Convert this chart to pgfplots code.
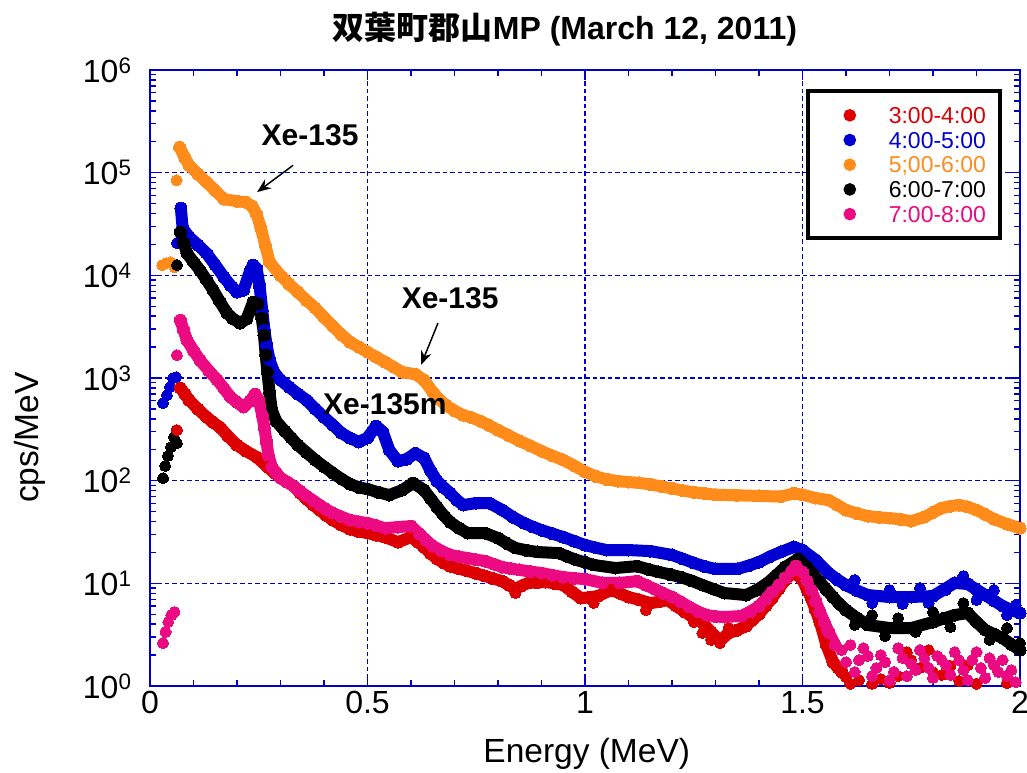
\documentclass[border=0pt]{standalone}
\usepackage{pgfplots}
\pgfplotsset{compat=1.18}
\usepackage{pgfplotstable}
\usepackage{fontspec}
\setmainfont{Liberation Sans}
\newfontfamily\cjk{Noto Sans CJK JP}
\usetikzlibrary{arrows.meta}
\definecolor{axblue}{RGB}{0,0,200}
\definecolor{sred}{RGB}{220,0,0}
\definecolor{sblue}{RGB}{0,0,210}
\definecolor{sorange}{RGB}{255,140,26}
\definecolor{spink}{RGB}{235,10,130}

\pgfplotstableread{
x y
0.068 177000
0.08 140000
0.09 118000
0.11 97000
0.13 80800
0.15 67000
0.17 55200
0.20 52700
0.22 51600
0.235 47200
0.245 39400
0.255 28800
0.265 19700
0.275 13400
0.30 10000
0.32 8200
0.34 6860
0.36 5700
0.38 4800
0.40 3900
0.42 3200
0.44 2650
0.46 2240
0.48 2000
0.50 1790
0.52 1600
0.54 1430
0.56 1280
0.58 1140
0.61 1090
0.63 955
0.65 729
0.665 620
0.68 545
0.70 480
0.72 435
0.74 410
0.76 380
0.78 345
0.80 311
0.825 275
0.85 243
0.875 218
0.90 194
0.925 175
0.95 159
0.975 140
1.00 122
1.025 110
1.05 103
1.075 99
1.10 97
1.125 95
1.15 92
1.175 88
1.20 84
1.225 80
1.25 77
1.275 75
1.30 73
1.35 72
1.40 71
1.45 70
1.48 75
1.50 73
1.53 67.7
1.56 64.7
1.58 58
1.60 51.7
1.625 48
1.65 45.2
1.675 44
1.70 43.2
1.725 42
1.75 40.4
1.78 44.2
1.80 49
1.82 54.1
1.84 56.5
1.86 57.9
1.88 55.5
1.90 51.7
1.92 47
1.94 42.3
1.97 37.8
2.00 34.5
}\orangemain
\pgfplotstableread{
x y
0.028 12600
0.038 13200
0.048 13400
0.056 12000
0.061 84500
}\orangeiso

\pgfplotstableread{
x y
0.071 45100
0.075 28800
0.09 23600
0.11 19800
0.13 16400
0.15 12600
0.17 9600
0.185 8000
0.20 6860
0.215 7180
0.23 11000
0.237 12600
0.245 11700
0.252 7850
0.258 4580
0.263 2930
0.268 2090
0.275 1490
0.285 1140
0.30 955
0.32 815
0.34 700
0.36 609
0.38 500
0.40 416
0.42 350
0.44 291
0.46 260
0.48 238
0.50 262
0.52 340
0.535 300
0.55 199
0.57 155
0.59 162
0.61 185
0.63 166
0.645 125
0.66 99.1
0.675 86
0.69 75.7
0.705 65
0.72 57.9
0.75 60.5
0.78 60.5
0.81 51.7
0.835 44
0.86 38.6
0.88 35.5
0.90 33.0
0.925 30.5
0.95 28.2
0.975 25.8
1.00 23.6
1.025 22.2
1.05 21.1
1.10 21.1
1.15 20.6
1.20 18.9
1.225 17.3
1.25 15.8
1.275 14.6
1.30 13.8
1.35 13.8
1.375 14.8
1.40 16.1
1.425 18.2
1.45 20.2
1.48 22.6
1.50 21.1
1.53 16.9
1.56 12.6
1.58 10.9
1.60 9.62
1.625 8.5
1.65 7.69
1.70 7.36
1.75 7.36
1.80 7.52
1.825 8.7
1.85 10.1
1.88 9.84
1.90 8.7
1.92 7.69
1.94 6.8
1.96 6.01
1.98 5.5
2.00 5.14
}\bluemain
\pgfplotstableread{
x y
0.030 570
0.039 681
0.046 815
0.053 998
0.060 1020
0.062 20600
1.62 10.8
1.66 6.43
1.70 8.61
1.73 6.29
1.77 9.0
1.79 6.43
1.83 8.61
1.87 11.8
1.90 6.88
1.94 8.61
1.97 4.91
1.99 6.15
}\blueiso

\pgfplotstableread{
x y
0.070 26400
0.077 21000
0.085 16400
0.10 13500
0.115 11200
0.13 9000
0.145 7180
0.16 5600
0.177 4290
0.19 3800
0.207 3430
0.222 3750
0.237 5480
0.248 5250
0.257 3830
0.262 2620
0.266 1670
0.270 1140
0.275 713
0.280 487
0.290 380
0.31 304
0.325 260
0.34 222
0.36 188
0.38 159
0.40 137
0.42 119
0.44 104
0.46 92.7
0.48 86
0.50 82.8
0.525 77
0.55 72.4
0.58 81.0
0.605 94.8
0.63 81.0
0.645 67
0.66 55.3
0.675 46
0.69 39.5
0.71 34.5
0.73 30.9
0.77 30.9
0.80 27.6
0.82 24.5
0.84 22.1
0.865 21
0.89 20.2
0.94 19.7
0.96 18.2
0.98 16.9
1.00 16
1.02 15.1
1.07 14.1
1.12 14.7
1.145 13.7
1.17 12.9
1.195 12.2
1.22 11.5
1.245 10.6
1.27 9.62
1.295 8.8
1.32 8.05
1.37 7.69
1.395 8.6
1.42 10.1
1.44 12.0
1.46 14.4
1.49 17.3
1.51 14.4
1.525 12.2
1.54 10.3
1.555 8.7
1.57 7.36
1.585 6.3
1.60 5.50
1.625 4.6
1.65 3.93
1.70 3.67
1.75 3.67
1.80 4.20
1.825 4.55
1.85 4.91
1.88 5.14
1.90 4.2
1.92 3.51
1.94 3.2
1.96 2.93
1.98 2.55
2.00 2.24
}\blackmain
\pgfplotstableread{
x y
0.030 106
0.035 139
0.041 174
0.048 212
0.055 266
0.061 311
0.062 232
0.062 12600
1.62 3.93
1.66 4.91
1.69 3.07
1.72 4.59
1.76 3.36
1.80 5.26
1.84 3.75
1.87 6.43
1.90 4.20
1.93 2.81
1.97 3.67
2.00 2.62
}\blackiso

\pgfplotstableread{
x y
0.070 798
0.08 700
0.09 609
0.11 500
0.13 416
0.145 370
0.16 333
0.18 270
0.20 222
0.22 195
0.245 170
0.27 136
0.285 120
0.30 106
0.315 97
0.33 88.6
0.345 76
0.36 66.2
0.375 58
0.39 51.7
0.405 46
0.42 41.3
0.44 37
0.46 33.8
0.48 32
0.50 30.9
0.52 29.5
0.54 28.2
0.57 25.2
0.60 28.2
0.615 25.5
0.63 22.6
0.645 19.5
0.66 17.3
0.675 15.8
0.69 14.7
0.71 13.9
0.73 13.2
0.75 12.5
0.77 11.8
0.79 11.1
0.81 10.5
0.825 9.6
0.84 8.80
0.855 9.5
0.87 10.1
0.89 10.2
0.91 10.3
0.93 10.0
0.95 9.62
0.97 8.3
0.99 7.19
1.01 7.3
1.03 7.52
1.06 8.61
1.08 8.0
1.10 7.36
1.125 6.9
1.15 6.43
1.17 6.6
1.19 6.88
1.21 6.0
1.23 5.26
1.25 4.6
1.27 4.11
1.29 3.36
1.31 2.74
1.33 3.28
1.35 3.5
1.37 3.84
1.385 4.4
1.40 5.02
1.415 6.0
1.43 7.19
1.445 8.8
1.46 10.8
1.48 12.9
1.50 10.8
1.51 8.8
1.52 7.19
1.53 5.5
1.54 4.20
1.555 2.51
1.57 1.71
1.59 1.37
}\redmain
\pgfplotstableread{
x y
0.062 311
0.84 8.05
1.02 6.43
1.14 5.50
1.25 4.20
1.27 3.28
1.29 2.81
1.31 2.62
1.33 3.67
1.58 1.50
1.60 1.22
1.61 1.05
1.63 1.14
1.66 1.05
1.68 1.17
1.70 1.07
1.72 1.25
1.74 2.14
1.75 1.79
1.77 1.50
1.79 2.24
1.80 1.37
1.82 1.28
1.84 1.57
1.86 1.12
1.88 1.60
1.90 1.05
1.92 1.20
1.95 1.37
1.97 1.07
}\rediso

\pgfplotstableread{
x y
0.070 3660
0.077 2930
0.085 2340
0.10 1850
0.115 1490
0.135 1180
0.155 955
0.17 790
0.185 652
0.20 580
0.215 521
0.23 596
0.242 697
0.25 609
0.258 435
0.263 325
0.268 238
0.272 178
0.28 136
0.29 120
0.30 106
0.315 97
0.33 88.6
0.345 79
0.36 70.8
0.375 64
0.39 57.9
0.405 52.5
0.42 48.4
0.44 44.5
0.46 41.3
0.48 39.8
0.50 38.6
0.52 36.5
0.54 34.5
0.57 35.3
0.60 36.1
0.62 30.2
0.635 26.2
0.65 23.1
0.67 20.7
0.69 18.9
0.71 18.2
0.73 17.6
0.75 17.0
0.77 16.5
0.79 15.4
0.81 14.4
0.83 13.9
0.85 13.5
0.875 13.0
0.90 12.6
0.925 12.0
0.95 11.5
0.975 11.2
1.00 11.0
1.04 10.1
1.08 10.1
1.12 10.5
1.14 9.6
1.16 8.80
1.18 8.0
1.20 7.36
1.22 6.6
1.24 5.88
1.26 5.3
1.28 4.91
1.30 4.75
1.32 4.70
1.36 4.81
1.38 5.3
1.40 6.01
1.415 7.0
1.43 8.23
1.445 9.6
1.46 11.3
1.475 13.2
1.485 14.7
1.50 12.9
1.51 10.6
1.52 8.61
1.53 6.7
1.54 5.26
1.55 4.2
1.56 3.36
1.575 2.51
}\pinkmain
\pgfplotstableread{
x y
0.030 2.62
0.036 3.36
0.042 4.20
0.049 4.91
0.056 5.26
0.062 1670
1.59 2.24
1.60 1.71
1.61 2.51
1.62 1.37
1.63 1.79
1.64 2.34
1.65 1.96
1.66 1.25
1.67 1.50
1.68 2.00
1.69 1.71
1.70 1.14
1.71 1.37
1.72 2.34
1.73 1.87
1.74 1.25
1.75 1.64
1.76 1.43
1.77 2.24
1.78 1.87
1.79 1.50
1.80 1.20
1.81 1.96
1.82 1.79
1.83 1.60
1.84 1.28
1.85 2.14
1.86 1.79
1.87 1.43
1.88 1.14
1.89 1.79
1.90 2.14
1.91 1.50
1.92 1.20
1.93 1.87
1.94 1.60
1.95 1.37
1.96 1.79
1.97 1.25
1.98 1.43
1.99 1.09
}\pinkiso

\begin{document}
\begin{tikzpicture}
\begin{axis}[
  scale only axis, width=870pt, height=616pt,
  xmin=0, xmax=2, ymode=log, ymin=1, ymax=1e6,
  axis line style={draw=axblue, line width=2pt},
  tick style={axblue, line width=1.4pt},
  tick align=inside,
  major tick length=10pt, minor tick length=6pt,
  xtick={0,0.5,1,1.5,2}, xticklabels={0,0.5,1,1.5,2},
  minor xtick={0.1,0.2,0.3,0.4,0.6,0.7,0.8,0.9,1.1,1.2,1.3,1.4,1.6,1.7,1.8,1.9},
  ytick={1,10,100,1000,10000,100000,1000000},
  yticklabels={10\textsuperscript{0},10\textsuperscript{1},10\textsuperscript{2},10\textsuperscript{3},10\textsuperscript{4},10\textsuperscript{5},10\textsuperscript{6}},
  grid=major,
  major grid style={axblue, line width=1.3pt, dash pattern=on 4.5pt off 3pt},
  ticklabel style={font=\fontsize{32}{38}\selectfont},
  xticklabel style={yshift=-2pt},
  yticklabel style={xshift=-15pt},
  label style={font=\fontsize{33.5}{40}\selectfont},
  xlabel={Energy (MeV)},
  ylabel={cps/MeV},
  xlabel style={at={(axis description cs:0.502,-0.110)}, anchor=center},
  ylabel style={at={(axis description cs:-0.138,0.403)}, anchor=center},
  title={{\cjk\bfseries 双葉町郡山}\textbf{MP (March 12, 2011)}},
  title style={font=\fontsize{32}{38}\selectfont, at={(axis description cs:0.477,1.056)}, anchor=center},
  legend cell align=left,
  legend image code/.code={\path (0pt,0pt) (56pt,0pt); \fill[#1] (26pt,0pt) circle (4.2pt);},
  legend style={at={(rel axis cs:0.9793,0.9692)}, anchor=north east, draw=black, line width=4pt, fill=white,
    inner xsep=14pt, inner ysep=12pt, font=\fontsize{23}{24}\selectfont, row sep=0pt, column sep=7pt,
    nodes={inner sep=0pt, text height=20.6pt, text depth=4.1pt}},
  every axis plot/.append style={mark options={line width=0pt}},
]
\addlegendimage{sred}\addlegendentry{\textcolor{sred}{3:00-4:00}}
\addlegendimage{sblue}\addlegendentry{\textcolor{sblue}{4:00-5:00}}
\addlegendimage{sorange}\addlegendentry{\textcolor{sorange}{5;00-6:00}}
\addlegendimage{black}\addlegendentry{\textcolor{black}{6:00-7:00}}
\addlegendimage{spink}\addlegendentry{\textcolor{spink}{7:00-8:00}}

\addplot[forget plot, sorange, line width=12pt, line cap=round, line join=round, mark=*, mark size=6pt] table[x=x,y=y] {\orangemain};
\addplot[forget plot, sorange, only marks, mark=*, mark size=5.5pt] table[x=x,y=y] {\orangeiso};
\addplot[forget plot, sblue, line width=12pt, line cap=round, line join=round, mark=*, mark size=6pt] table[x=x,y=y] {\bluemain};
\addplot[forget plot, sblue, only marks, mark=*, mark size=5.5pt] table[x=x,y=y] {\blueiso};
\addplot[forget plot, black, line width=12pt, line cap=round, line join=round, mark=*, mark size=6pt] table[x=x,y=y] {\blackmain};
\addplot[forget plot, black, only marks, mark=*, mark size=5.5pt] table[x=x,y=y] {\blackiso};
\addplot[forget plot, sred, line width=12pt, line cap=round, line join=round, mark=*, mark size=6pt] table[x=x,y=y] {\redmain};
\addplot[forget plot, sred, only marks, mark=*, mark size=5.5pt] table[x=x,y=y] {\rediso};
\addplot[forget plot, spink, line width=12pt, line cap=round, line join=round, mark=*, mark size=6pt] table[x=x,y=y] {\pinkmain};
\addplot[forget plot, spink, only marks, mark=*, mark size=5.5pt] table[x=x,y=y] {\pinkiso};

\coordinate (t1) at (axis cs:0.368,2.32e5);
\coordinate (a1s) at (axis cs:0.329,1.18e5);
\coordinate (a1e) at (axis cs:0.246,6.46e4);
\coordinate (t2) at (axis cs:0.690,6000);
\coordinate (a2s) at (axis cs:0.662,3430);
\coordinate (a2e) at (axis cs:0.623,1340);
\coordinate (t3) at (axis cs:0.540,560);
\end{axis}
\node[font=\bfseries\fontsize{30}{36}\selectfont] at (t1) {Xe-135};
\draw[-{Stealth[length=14pt,width=11pt]}, line width=1.5pt] (a1s) -- (a1e);
\node[font=\bfseries\fontsize{30}{36}\selectfont] at (t2) {Xe-135};
\draw[-{Stealth[length=14pt,width=11pt]}, line width=1.5pt] (a2s) -- (a2e);
\node[font=\bfseries\fontsize{30}{36}\selectfont] at (t3) {Xe-135m};
\pgfresetboundingbox
\path[use as bounding box] ([xshift=-150pt,yshift=-86pt]current axis.south west) rectangle ([xshift=7pt,yshift=70pt]current axis.north east);
\end{tikzpicture}
\end{document}
